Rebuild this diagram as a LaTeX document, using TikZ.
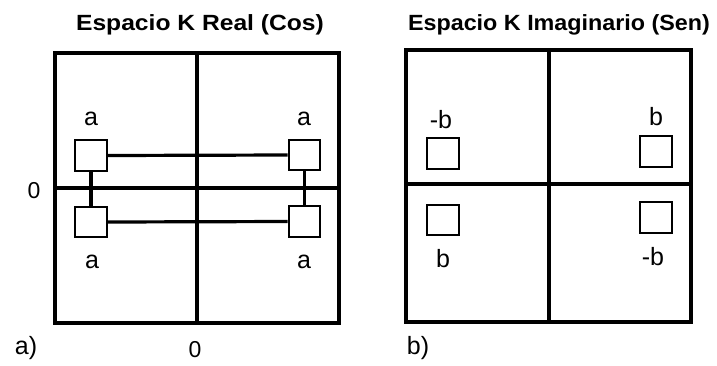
\documentclass[tikz,border=0pt]{standalone}
\usepackage{graphicx}
\usepackage{fontspec}
\setmainfont{Liberation Sans}
\begin{document}
\begin{tikzpicture}[x=1pt,y=-1pt,
  frame/.style={line width=3.2pt},
  cell/.style={draw, fill=white, line width=2.2pt, minimum width=31.5pt, minimum height=30.5pt, inner sep=0pt},
  link/.style={line width=3.2pt},
  title/.style={font=\fontsize{22}{26}\selectfont\bfseries, anchor=base, inner sep=0pt},
  lbl/.style={font=\fontsize{25}{29}\selectfont, anchor=base, inner sep=0pt},
  zero/.style={font=\fontsize{23}{27}\selectfont, anchor=base, inner sep=0pt}
]
\useasboundingbox (0,0) rectangle (717,365);

% ---- a) real part ----
\node[title] (ta) at (200,30) {\scalebox{1.12}[1]{Espacio K Real (Cos)}};
\draw[frame] (55,53) rectangle (339,323);
\draw[frame] (197,53) -- (197,323);
\draw[frame] (55,188) -- (339,188);

\node[cell] (a1) at (91,155.5) {};
\node[cell] (a2) at (304.5,155) {};
\node[cell] (a3) at (91,222) {};
\node[cell] (a4) at (304.5,221.5) {};
\draw[link] (a1.east) -- (a2.west);
\draw[link] (a3.east) -- (a4.west);
\draw[link] (a1.south) -- (a3.north);
\draw[link] (a2.south) -- (a4.north);

\node[lbl] (la1) at (91,125) {a};
\node[lbl] (la2) at (304,125) {a};
\node[lbl] (la3) at (92,268) {a};
\node[lbl] (la4) at (304,268) {a};
\node[zero] (z1) at (34,198) {0};
\node[zero] (z2) at (195,357) {0};
\node[lbl] (pa) at (26,354) {a)};

% ---- b) imaginary part ----
\node[title] (tb) at (559,30) {\scalebox{1.06}[1]{Espacio K Imaginario (Sen)}};
\draw[frame] (406,50) rectangle (691,322);
\draw[frame] (549,50) -- (549,322);
\draw[frame] (406,184) -- (691,184);

\node[cell] (b1) at (443,153.5) {};
\node[cell] (b2) at (656,151.5) {};
\node[cell] (b3) at (443,220) {};
\node[cell] (b4) at (656,217.5) {};

\node[lbl] (lb1) at (441,128) {-b};
\node[lbl] (lb2) at (656,125) {b};
\node[lbl] (lb3) at (443,267) {b};
\node[lbl] (lb4) at (653,265) {-b};
\node[lbl] (pb) at (418,354) {b)};
\end{tikzpicture}
\end{document}
